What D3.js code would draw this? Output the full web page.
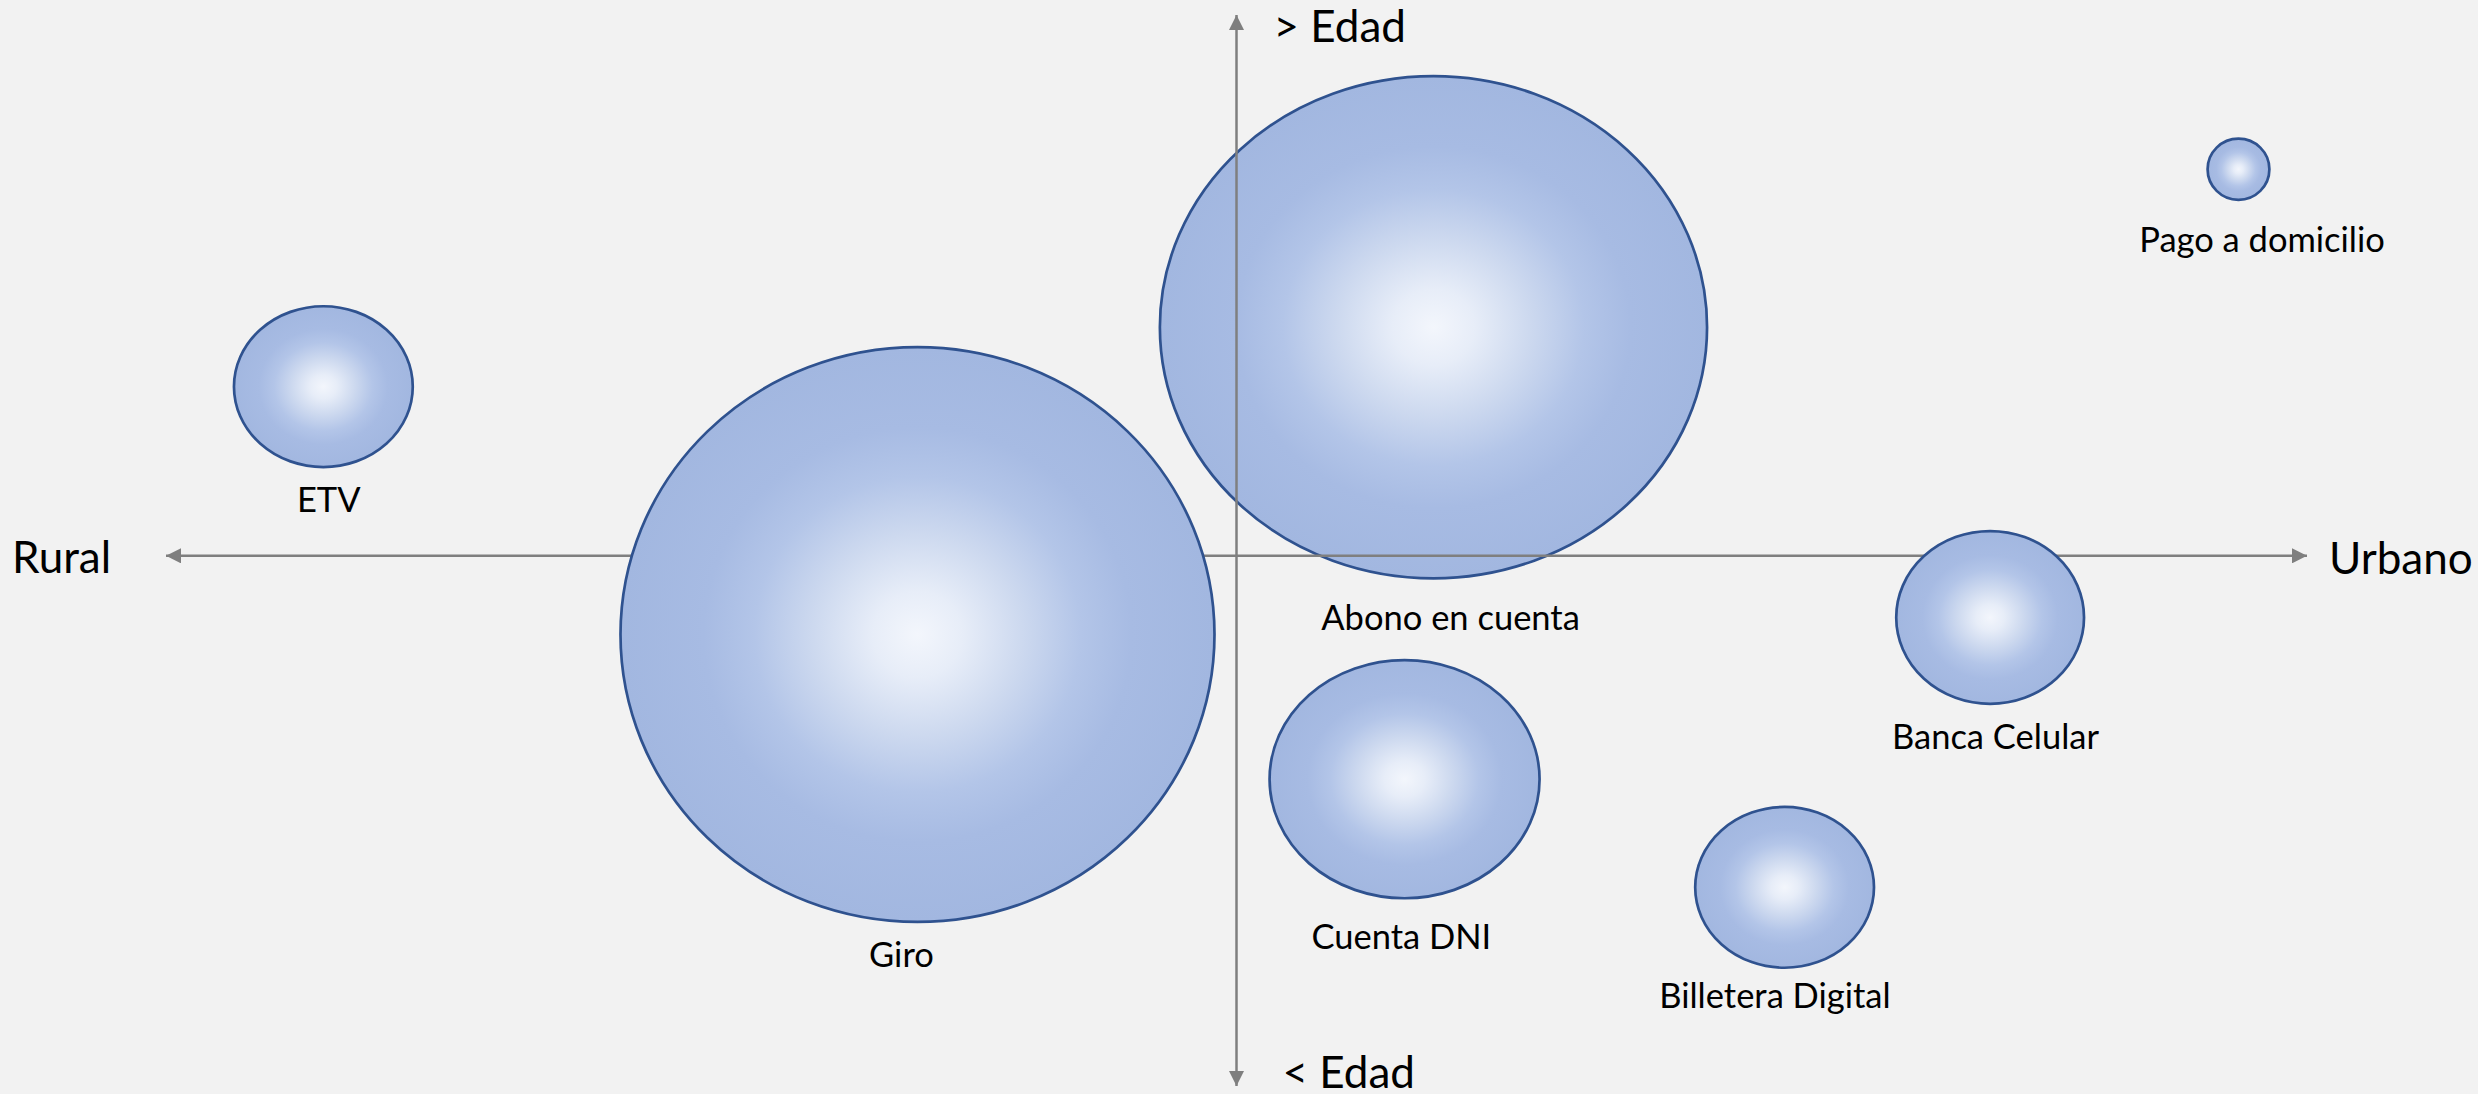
<!DOCTYPE html>
<html>
<head>
<meta charset="utf-8">
<script src="https://cdn.jsdelivr.net/npm/d3@7"></script>
<style>
  html, body { margin: 0; padding: 0; background: #f2f2f2; }
  svg { display: block; }
  text { font-family: Lato, "Noto Sans", sans-serif; fill: #000; }
</style>
</head>
<body>
<div id="ch"></div>
<script>
// Mapa de canales de pago: Rural <-> Urbano, edad

const names = ["Abono en cuenta", "Giro", "ETV", "Pago a domicilio", "Banca Celular", "Cuenta DNI", "Billetera Digital"];
// posicion en el eje Rural(-100) .. Urbano(100)
const posX = [18.4, -29.8, -85.3, 93.6, 70.4, 15.7, 51.2];
// posicion en el eje < Edad (-99) .. > Edad (101)
const posY = [42.7, -14.7, 31.6, 72.2, -11.5, -41.7, -61.9];
// tamano de la burbuja (ancho / alto)
const sizeW = [91.2, 99, 29.8, 10.3, 31.3, 45, 29.8];
const sizeH = [83.7, 95.8, 26.8, 10.2, 28.8, 39.7, 26.8];
// donde va cada etiqueta
const labelX = [20.0, -31.3, -84.8, 95.8, 70.9, 15.4, 50.3];
const labelY = [-13.9, -76.8, 8.2, 56.7, -36.1, -73.4, -84.4];
// burbujas que quedan debajo de los ejes
const behindAxes = ["Abono en cuenta"];

const axisLabels = { left: "Rural", right: "Urbano", top: "> Edad", bottom: "< Edad" };

const width = 2478;
const height = 1094;

const x = d3.scaleLinear().domain([-100, 100]).range([166, 2307]);
const y = d3.scaleLinear().domain([-99, 101]).range([1086, 15]);
const size = d3.scaleLinear().domain([0, 100]).range([0, 600]);

const data = names.map((n, i) => ({
  name: n,
  x: posX[i],
  y: posY[i],
  w: sizeW[i],
  h: sizeH[i],
  lx: labelX[i],
  ly: labelY[i]
}));

const svg = d3
  .select("#ch")
  .append("svg")
  .attr("width", width)
  .attr("height", height)
  .style("background", "#f2f2f2");

const defs = svg.append("defs");

/* gradiente de las burbujas */
const grad = defs.append("radialGradient").attr("id", "bubble").attr("cx", "50%").attr("cy", "50%").attr("r", "50%");
[
  [0, "#f3f6fc"],
  [0.15, "#e7edf8"],
  [0.35, "#cdd9ef"],
  [0.55, "#b3c5e8"],
  [0.72, "#a7bbe3"],
  [1, "#a2b7e0"]
].forEach((s) => {
  grad.append("stop").attr("offset", s[0]).attr("stop-color", s[1]);
});

/* flecha */
defs
  .append("marker")
  .attr("id", "arrow")
  .attr("viewBox", "0 0 16 16")
  .attr("refX", 16)
  .attr("refY", 8)
  .attr("markerWidth", 16)
  .attr("markerHeight", 15)
  .attr("markerUnits", "userSpaceOnUse")
  .attr("orient", "auto-start-reverse")
  .append("path")
  .attr("d", "M0,0 L16,8 L0,16 Z")
  .attr("fill", "#7f7f7f");

const drawBubbles = (g, rows) => {
  g.selectAll("ellipse")
    .data(rows)
    .enter()
    .append("ellipse")
    .attr("cx", (d) => x(d.x))
    .attr("cy", (d) => y(d.y))
    .attr("rx", (d) => size(d.w) / 2)
    .attr("ry", (d) => size(d.h) / 2)
    .attr("fill", "url(#bubble)")
    .attr("stroke", "#2f528f")
    .attr("stroke-width", 2.7);
};

const under = svg.append("g");
const axes = svg.append("g");
const over = svg.append("g");

drawBubbles(under, data.filter((d) => behindAxes.includes(d.name)));

/* EJES */
axes
  .append("line")
  .attr("x1", x(0))
  .attr("x2", x(0))
  .attr("y1", y(101))
  .attr("y2", y(-99))
  .attr("stroke", "#7f7f7f")
  .attr("stroke-width", 2.5)
  .attr("marker-start", "url(#arrow)")
  .attr("marker-end", "url(#arrow)");

axes
  .append("line")
  .attr("x1", x(-100))
  .attr("x2", x(100))
  .attr("y1", y(0))
  .attr("y2", y(0))
  .attr("stroke", "#7f7f7f")
  .attr("stroke-width", 2.5)
  .attr("marker-start", "url(#arrow)")
  .attr("marker-end", "url(#arrow)");

drawBubbles(over, data.filter((d) => !behindAxes.includes(d.name)));

/* etiquetas de burbujas */
svg
  .append("g")
  .selectAll("text")
  .data(data)
  .enter()
  .append("text")
  .attr("x", (d) => x(d.lx))
  .attr("y", (d) => y(d.ly))
  .attr("text-anchor", "middle")
  .style("font-size", "34.5px")
  .text((d) => d.name);

/* etiquetas de ejes */
const axText = svg.append("g").style("font-size", "44px");
axText.append("text").attr("x", x(-100) - 154).attr("y", y(0) + 17).text(axisLabels.left);
axText.append("text").attr("x", x(100) + 22).attr("y", y(0) + 18).text(axisLabels.right);
axText.append("text").attr("x", x(0) + 37).attr("y", y(101) + 27).text(axisLabels.top);
axText.append("text").attr("x", x(0) + 46).attr("y", y(-99) + 2).text(axisLabels.bottom);
</script>
</body>
</html>
